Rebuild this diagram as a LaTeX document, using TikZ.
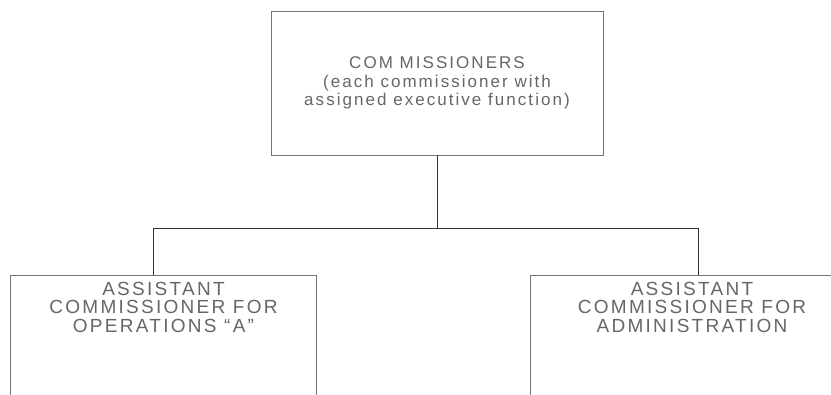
\documentclass[tikz,border=0pt]{standalone}
\usepackage{fontspec}
\setmainfont[LetterSpace=12]{Liberation Sans}

\begin{document}
\begin{tikzpicture}[x=0.75pt,y=-0.75pt,
		orgbox/.style={draw=black!55, line width=0.6pt, align=center,
			font=\fontsize{12.75pt}{13.9pt}\selectfont, text=black!60},
		lowbox/.style={orgbox, anchor=north, font=\fontsize{14.25pt}{13.9pt}\selectfont,
			inner ysep=5pt, text depth=70pt},
		link/.style={draw=black!80, line width=0.7pt}]
			\clip (0,0) rectangle (831,395);

			% top box
			\node[orgbox, minimum width=249pt, minimum height=108pt] (comm) at (437,83)
				{COM MISSIONERS\\(each commissioner with\\assigned executive function)};

			% boxes below (run off the page)
			\node[lowbox, minimum width=229.5pt] (opsA) at (163.5,275)
				{ASSISTANT\\COMMISSIONER FOR\\OPERATIONS ``A''};
			\node[lowbox, minimum width=243pt] (admin) at (692,275)
				{ASSISTANT\\COMMISSIONER FOR\\ADMINISTRATION};

			% branch points
			\coordinate (jl) at (153,228);
			\coordinate (jr) at (698,228);

			% connectors
			\draw[link] (comm.south) -- (comm.south |- jl);
			\draw[link] (opsA.north -| jl) -- (jl) -- (jr) -- (admin.north -| jr);

		\end{tikzpicture}
\end{document}
